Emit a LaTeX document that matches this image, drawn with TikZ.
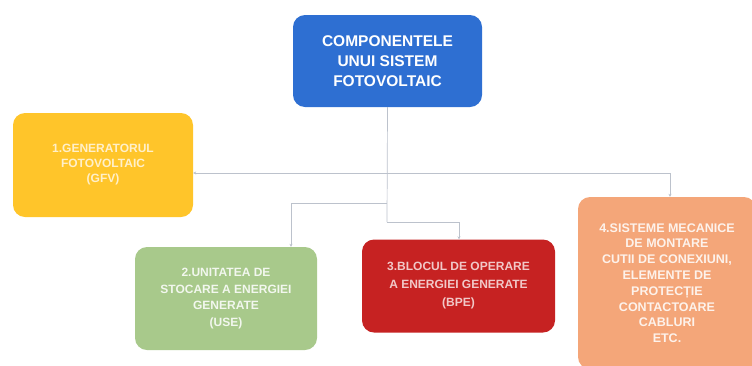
\documentclass[tikz,border=0pt]{standalone}
\usepackage{fontspec}
\setmainfont{Liberation Sans}
\usetikzlibrary{arrows.meta}
\definecolor{cblue}{HTML}{2E6FD2}
\definecolor{cyellow}{HTML}{FFC52A}
\definecolor{cgreen}{HTML}{A8C98B}
\definecolor{cred}{HTML}{C62222}
\definecolor{corange}{HTML}{F4A679}
\definecolor{cline}{HTML}{BCC2CC}
\tikzset{
  box/.style={rounded corners=12pt, inner sep=0pt, align=center, text=white, font=\bfseries\fontsize{12}{16.5}\selectfont},
  conn/.style={draw=cline, line width=0.7pt},
  tip/.style={-{Stealth[length=3pt,width=3pt]}}
}
\begin{document}
\begin{tikzpicture}[x=1pt,y=-1pt]
\useasboundingbox (0,0) rectangle (752,365);
\node[box, fill=cblue, minimum width=189pt, minimum height=92pt, font=\bfseries\fontsize{15.5}{20}\selectfont] (top) at (387.5,61) {COMPONENTELE\\UNUI SISTEM\\FOTOVOLTAIC};
\node[box, fill=cyellow, text=white!75!cyellow, minimum width=180pt, minimum height=104pt, font=\bfseries\fontsize{12}{15}\selectfont] (gfv) at (103,165) {1.GENERATORUL\\FOTOVOLTAIC\\(GFV)};
\node[box, fill=cgreen, text=white!85!cgreen, minimum width=182pt, minimum height=103pt] (use) at (226,298.5) {2.UNITATEA DE\\STOCARE A ENERGIEI\\GENERATE\\(USE)};
\node[box, fill=cred, text=white!75!cred, minimum width=193pt, minimum height=93pt, font=\bfseries\fontsize{12}{18}\selectfont] (bpe) at (458.5,286) {3.BLOCUL DE OPERARE\\A ENERGIEI GENERATE\\(BPE)};
\node[box, fill=corange, text=white!85!corange, minimum width=178pt, minimum height=172pt, font=\bfseries\fontsize{12.5}{15.8}\selectfont] (sme) at (667,283) {4.SISTEME MECANICE\\DE MONTARE\\CUTII DE CONEXIUNI,\\ELEMENTE DE\\PROTECȚIE\\CONTACTOARE\\CABLURI\\ETC.};
\coordinate (j1) at (387,173);
\coordinate (j2) at (387,203);
\coordinate (j3) at (387,222);
\coordinate (k2) at (291,203);
\coordinate (k3) at (459,222);
\coordinate (k4) at (670,173);
\draw[conn] (top.south) -- (j3);
\draw[conn, tip] (j1) -- (gfv.east |- j1);
\draw[conn, tip] (j1) -- (k4) -- (k4 |- sme.north);
\draw[conn, tip] (j2) -- (k2) -- (k2 |- use.north);
\draw[conn, tip] (j3) -- (k3) -- (k3 |- bpe.north);
\end{tikzpicture}
\end{document}
